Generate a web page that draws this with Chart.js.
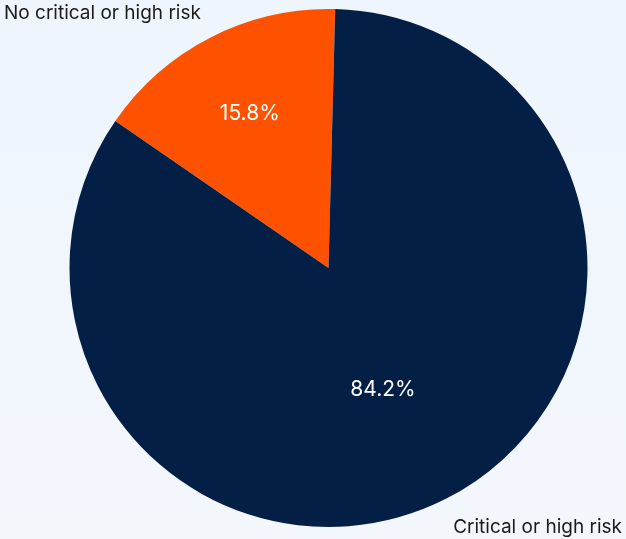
<!DOCTYPE html>
<html>
<head>
<meta charset="utf-8">
<script src="https://cdn.jsdelivr.net/npm/chart.js@4"></script>
<style>
  html, body { margin: 0; padding: 0; }
  body { width: 626px; height: 539px; background: linear-gradient(180deg, #eef5fd 0%, #f3f7fc 100%); }
  #wrap { position: relative; width: 626px; height: 539px; }
</style>
</head>
<body>
<div id="wrap"><canvas id="chart" width="626" height="539"></canvas></div>
<script>
const categories = ['No critical or high risk', 'Critical or high risk'];
const shares = [15.8, 84.2];
const sliceColors = ['#ff5200', '#031f45'];

// Percentage text inside each slice, placed along the slice's mid-angle
const sliceLabels = {
  id: 'sliceLabels',
  afterDatasetsDraw(chart) {
    const ctx = chart.ctx;
    const meta = chart.getDatasetMeta(0);
    const radialFrac = [0.67, 0.515];
    const angleShift = [0, 0.05];
    ctx.save();
    ctx.font = '21px Inter, "DejaVu Sans", sans-serif';
    ctx.fillStyle = '#ffffff';
    ctx.textAlign = 'center';
    ctx.textBaseline = 'middle';
    meta.data.forEach((arc, i) => {
      const p = arc.getProps(['x', 'y', 'startAngle', 'endAngle', 'outerRadius']);
      const mid = (p.startAngle + p.endAngle) / 2 + angleShift[i];
      const r = p.outerRadius * radialFrac[i];
      ctx.fillText(shares[i].toFixed(1) + '%', p.x + Math.cos(mid) * r, p.y + Math.sin(mid) * r);
    });
    ctx.restore();
  }
};

// Category names in the corners of the canvas
const cornerLabels = {
  id: 'cornerLabels',
  afterDraw(chart) {
    const ctx = chart.ctx;
    ctx.save();
    ctx.font = '19px Inter, "DejaVu Sans", sans-serif';
    ctx.fillStyle = '#1b1b1b';
    ctx.textBaseline = 'middle';
    ctx.textAlign = 'left';
    ctx.fillText(categories[0], 4, 13);
    ctx.textAlign = 'right';
    ctx.fillText(categories[1], 622, 527);
    ctx.restore();
  }
};

new Chart(document.getElementById('chart'), {
  type: 'pie',
  data: {
    labels: categories,
    datasets: [{
      data: shares,
      backgroundColor: sliceColors,
      borderWidth: 0
    }]
  },
  options: {
    responsive: false,
    animation: false,
    rotation: -55.4,
    layout: { padding: { left: 40, right: 9, top: 9, bottom: 12 } },
    plugins: {
      legend: { display: false },
      tooltip: { enabled: false }
    }
  },
  plugins: [sliceLabels, cornerLabels]
});
</script>
</body>
</html>
